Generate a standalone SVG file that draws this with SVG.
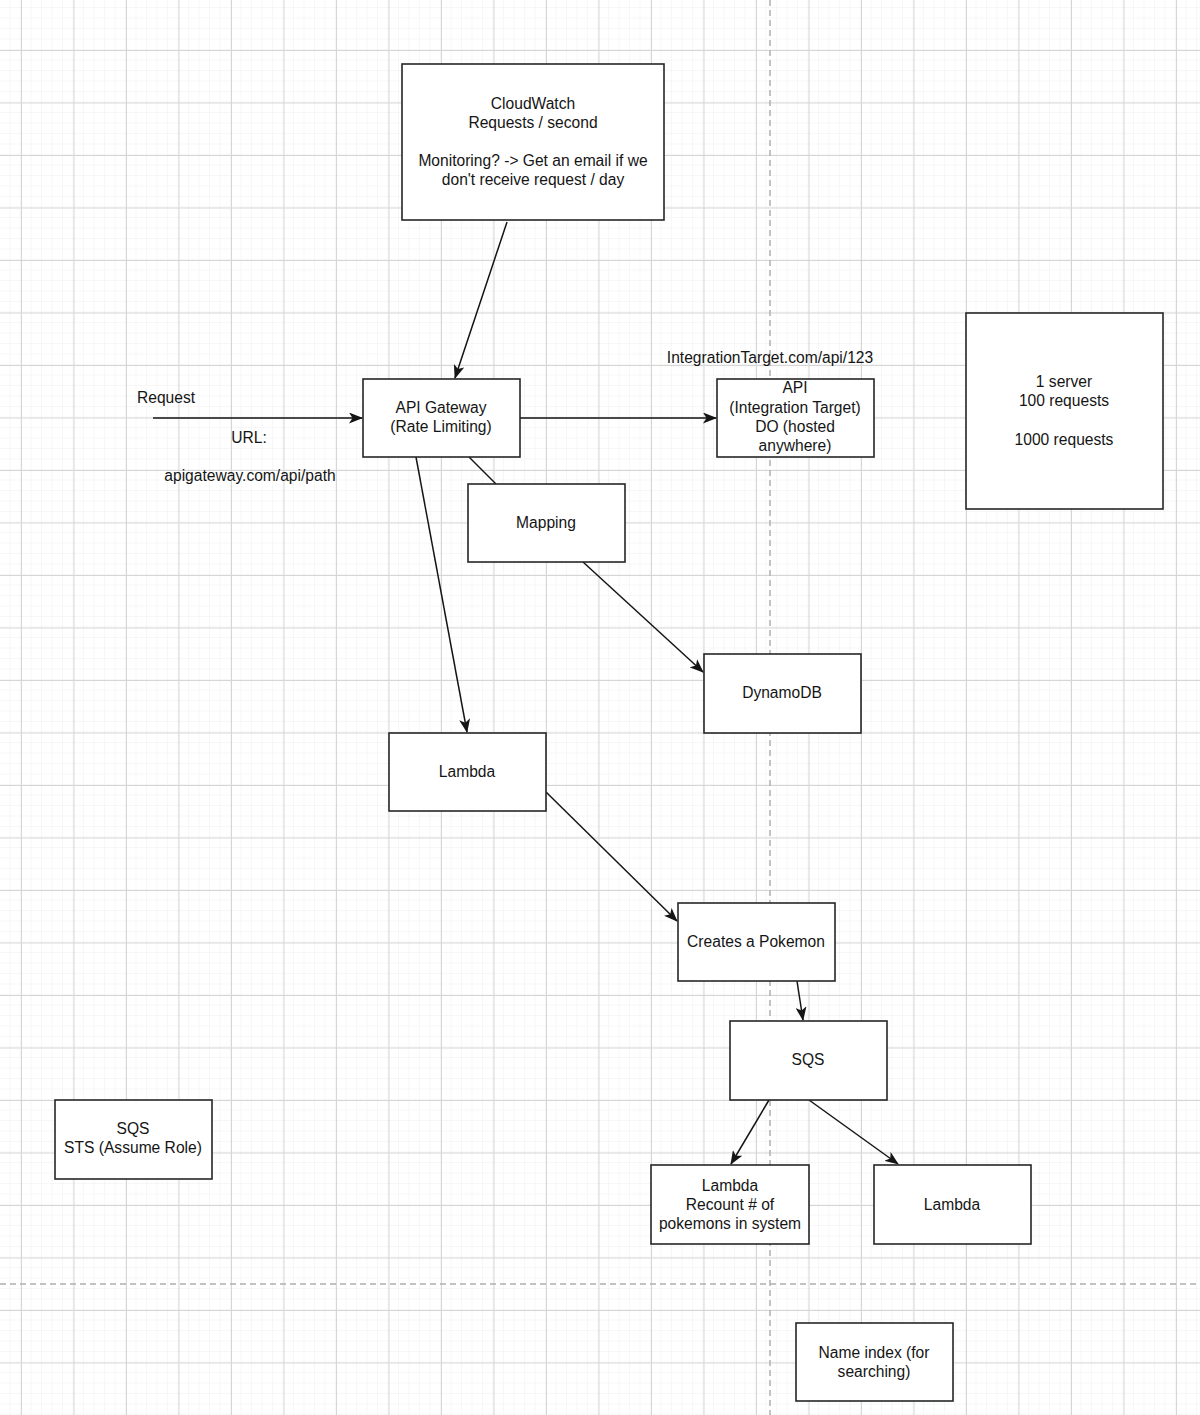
<svg xmlns="http://www.w3.org/2000/svg" width="1200" height="1415" viewBox="0 0 1200 1415">
<style>
.box{fill:#ffffff;stroke:#262626;stroke-width:1.6}
.t{font-family:"Liberation Sans",Arial,Helvetica,sans-serif;font-size:15.6px;fill:#151515;text-anchor:middle}
.e{fill:none;stroke:#151515;stroke-width:1.5}
.dash{fill:none;stroke:#b0b0b0;stroke-width:1.5;stroke-dasharray:6 4}
</style>
<defs>
<pattern id="minor" patternUnits="userSpaceOnUse" x="0" y="-2.5" width="10.5" height="10.5">
<path d="M10.5 0V10.5M0 10.5H10.5" fill="none" stroke="#efefef" stroke-width="1"/>
</pattern>
<pattern id="major" patternUnits="userSpaceOnUse" x="21" y="50" width="52.5" height="52.5">
<path d="M0.5 0V52.5M0 0.5H52.5" fill="none" stroke="#d6d6d6" stroke-width="1"/>
</pattern>
<marker id="arr" viewBox="0 0 14 11" refX="13" refY="5.5" markerWidth="14" markerHeight="11" markerUnits="userSpaceOnUse" orient="auto">
<path d="M0 0L14 5.5L0 11L3.5 5.5Z" fill="#151515"/>
</marker>
</defs>
<rect width="1200" height="1415" fill="#ffffff"/>
<rect width="1200" height="1415" fill="url(#minor)"/>
<rect width="1200" height="1415" fill="url(#major)"/>
<path class="dash" d="M770 0V1415"/>
<path class="dash" d="M0 1284H1200"/>

<g id="connectors">
<path class="e" d="M153 418H362" marker-end="url(#arr)"/>
<path class="e" d="M507 222L455 378" marker-end="url(#arr)"/>
<path class="e" d="M520 418H716" marker-end="url(#arr)"/>
<path class="e" d="M469 457L496 484"/>
<path class="e" d="M583 562L703 672" marker-end="url(#arr)"/>
<path class="e" d="M416 457L467 732" marker-end="url(#arr)"/>
<path class="e" d="M546 792L677 921" marker-end="url(#arr)"/>
<path class="e" d="M797 981L803 1020" marker-end="url(#arr)"/>
<path class="e" d="M769 1100L731 1164" marker-end="url(#arr)"/>
<path class="e" d="M809 1100L898 1164" marker-end="url(#arr)"/>
</g>

<g id="labels">
<text class="t" x="166" y="403">Request</text>
<text class="t" x="249" y="443">URL:</text>
<text class="t" x="250" y="481">apigateway.com/api/path</text>
<text class="t" x="770" y="363">IntegrationTarget.com/api/123</text>
</g>

<g id="cloudwatch">
<rect class="box" x="402" y="64" width="262" height="156"/>
<text class="t" x="533" y="109">CloudWatch</text>
<text class="t" x="533" y="128">Requests / second</text>
<text class="t" x="533" y="166">Monitoring? -&gt; Get an email if we</text>
<text class="t" x="533" y="185">don't receive request / day</text>
</g>

<g id="apigateway">
<rect class="box" x="363" y="379" width="157" height="78"/>
<text class="t" x="441" y="413">API Gateway</text>
<text class="t" x="441" y="432">(Rate Limiting)</text>
</g>

<g id="api">
<rect class="box" x="717" y="379" width="157" height="78"/>
<text class="t" x="795" y="393">API</text>
<text class="t" x="795" y="413">(Integration Target)</text>
<text class="t" x="795" y="432">DO (hosted</text>
<text class="t" x="795" y="451">anywhere)</text>
</g>

<g id="server">
<rect class="box" x="966" y="313" width="197" height="196"/>
<text class="t" x="1064" y="387">1 server</text>
<text class="t" x="1064" y="406">100 requests</text>
<text class="t" x="1064" y="445">1000 requests</text>
</g>

<g id="mapping">
<rect class="box" x="468" y="484" width="157" height="78"/>
<text class="t" x="546" y="528">Mapping</text>
</g>

<g id="dynamodb">
<rect class="box" x="704" y="654" width="157" height="79"/>
<text class="t" x="782" y="698">DynamoDB</text>
</g>

<g id="lambda1">
<rect class="box" x="389" y="733" width="157" height="78"/>
<text class="t" x="467" y="777">Lambda</text>
</g>

<g id="pokemon">
<rect class="box" x="678" y="903" width="157" height="78"/>
<text class="t" x="756" y="947">Creates a Pokemon</text>
</g>

<g id="sqs">
<rect class="box" x="730" y="1021" width="157" height="79"/>
<text class="t" x="808" y="1065">SQS</text>
</g>

<g id="lambdarecount">
<rect class="box" x="651" y="1165" width="158" height="79"/>
<text class="t" x="730" y="1191">Lambda</text>
<text class="t" x="730" y="1210">Recount # of</text>
<text class="t" x="730" y="1229">pokemons in system</text>
</g>

<g id="lambda2">
<rect class="box" x="874" y="1165" width="157" height="79"/>
<text class="t" x="952" y="1210">Lambda</text>
</g>

<g id="sqssts">
<rect class="box" x="55" y="1100" width="157" height="79"/>
<text class="t" x="133" y="1134">SQS</text>
<text class="t" x="133" y="1153">STS (Assume Role)</text>
</g>

<g id="nameindex">
<rect class="box" x="796" y="1323" width="157" height="78"/>
<text class="t" x="874" y="1358">Name index (for</text>
<text class="t" x="874" y="1377">searching)</text>
</g>
</svg>
